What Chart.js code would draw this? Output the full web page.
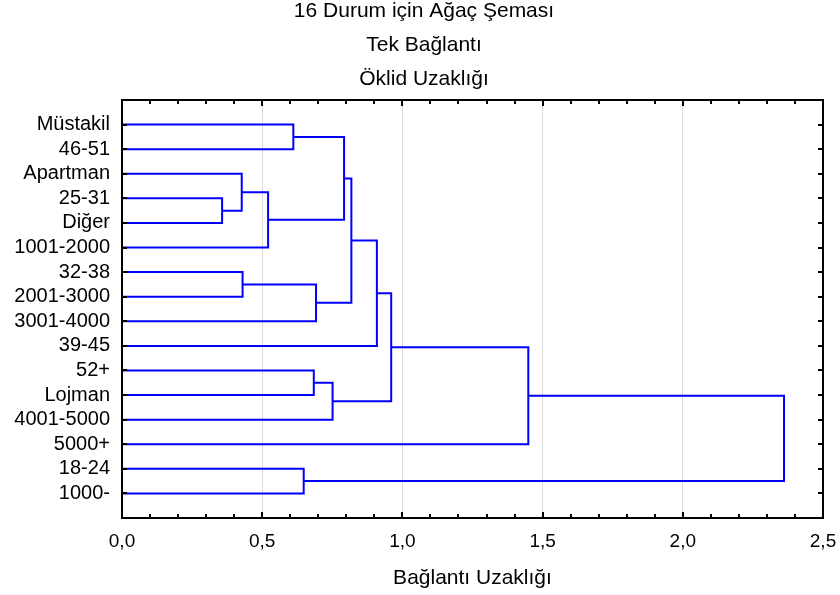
<!DOCTYPE html>
<html><head><meta charset="utf-8">
<script src="https://cdn.jsdelivr.net/npm/chart.js@4.4.0/dist/chart.umd.min.js"></script>
<style>html,body{margin:0;padding:0;background:#fff}canvas{display:block}</style>
</head><body>
<canvas id="c" width="840" height="595"></canvas>
<script>
const titleLines = ['16 Durum için Ağaç Şeması', 'Tek Bağlantı', 'Öklid Uzaklığı'];
const xAxisTitle = 'Bağlantı Uzaklığı';
const leaves = ['Müstakil','46-51','Apartman','25-31','Diğer','1001-2000','32-38','2001-3000','3001-4000','39-45','52+','Lojman','4001-5000','5000+','18-24','1000-'];
// merges: cluster ids (0-15 leaves, 16+ = merges in order)
const mergeLeft   = [3, 2, 6, 5, 0, 14, 10, 8, 12, 20, 25, 26, 27, 28, 29];
const mergeRight  = [4, 16, 7, 17, 1, 15, 11, 18, 22, 19, 23, 9, 24, 13, 21];
const mergeHeight = [0.357, 0.427, 0.430, 0.521, 0.611, 0.648, 0.684, 0.692, 0.751, 0.792, 0.818, 0.909, 0.960, 1.449, 2.361];
const xMin = 0, xMax = 2.5, xStep = 0.5, xMinorStep = 0.1;

// build U-shaped links from merge data
const pos = leaves.map((_, i) => i);
const hgt = leaves.map(() => 0);
const links = [];
for (let k = 0; k < mergeHeight.length; k++) {
  const a = mergeLeft[k], b = mergeRight[k], h = mergeHeight[k];
  links.push([{x: hgt[a], y: pos[a]}, {x: h, y: pos[a]}, {x: h, y: pos[b]}, {x: hgt[b], y: pos[b]}]);
  pos.push((pos[a] + pos[b]) / 2);
  hgt.push(h);
}

Chart.defaults.font.family = '"Liberation Sans", Arial, sans-serif';
Chart.defaults.color = '#000';

const framePlugin = {
  id: 'frame',
  afterDatasetsDraw(chart) {
    const {ctx, chartArea: a, scales: {x, y}} = chart;
    ctx.save();
    ctx.strokeStyle = '#000';
    ctx.lineWidth = 2;
    ctx.beginPath();
    const n = Math.round((xMax - xMin) / xMinorStep);
    const per = Math.round(xStep / xMinorStep);
    for (let i = 0; i <= n; i++) {
      const px = Math.round(x.getPixelForValue(xMin + i * xMinorStep));
      const len = i % per === 0 ? 6 : 4;
      ctx.moveTo(px, a.bottom); ctx.lineTo(px, a.bottom - len);
      ctx.moveTo(px, a.top); ctx.lineTo(px, a.top + len);
    }
    for (let i = 0; i < leaves.length; i++) {
      const py = Math.round(y.getPixelForValue(i));
      ctx.moveTo(a.left, py); ctx.lineTo(a.left + 5, py);
      ctx.moveTo(a.right, py); ctx.lineTo(a.right - 5, py);
    }
    ctx.stroke();
    ctx.strokeRect(a.left, a.top, a.right - a.left, a.bottom - a.top);
    ctx.restore();
  }
};

new Chart(document.getElementById('c'), {
  type: 'scatter',
  data: {
    datasets: links.map(pts => ({
      data: pts, showLine: true, borderColor: '#0000ff', borderWidth: 2,
      pointRadius: 0, tension: 0, fill: false
    }))
  },
  options: {
    responsive: false,
    animation: false,
    layout: {padding: {left: 8, right: 0, top: 0, bottom: 0}},
    plugins: {
      legend: {display: false},
      tooltip: {enabled: false},
      title: {
        display: true, text: titleLines, color: '#000',
        font: {size: 21, weight: 'normal', lineHeight: 34 / 21},
        padding: {top: -6, bottom: 4}
      }
    },
    scales: {
      x: {
        type: 'linear', min: xMin, max: xMax,
        afterFit(s) { s.height = 77; s.paddingLeft = 0; s.paddingRight = 17; },
        grid: {color: '#d9d9d9', lineWidth: 1, drawTicks: false},
        border: {display: false},
        ticks: {stepSize: xStep, padding: 12, font: {size: 19},
          callback: v => v.toFixed(1).replace('.', ',')},
        title: {display: true, text: xAxisTitle, font: {size: 21}, padding: {top: 0, bottom: 4}}
      },
      y: {
        type: 'linear', min: -1, max: leaves.length, reverse: true,
        afterFit(s) { s.width = 114; s.paddingTop = 0; s.paddingBottom = 0; },
        grid: {display: false, drawTicks: false},
        border: {display: false},
        ticks: {stepSize: 1, autoSkip: false, padding: 12, font: {size: 20},
          callback: v => (Number.isInteger(v) && v >= 0 && v < leaves.length) ? leaves[v] : ''}
      }
    }
  },
  plugins: [framePlugin]
});
</script>
</body></html>
